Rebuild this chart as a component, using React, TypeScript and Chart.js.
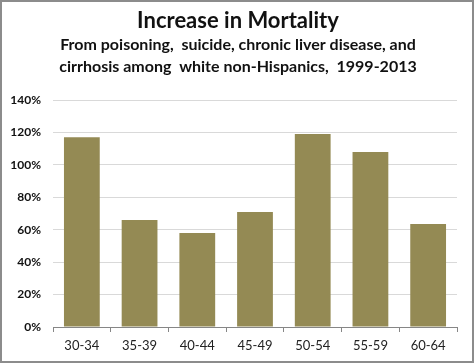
import React, { useEffect, useRef } from "react";
import { Chart, registerables } from "chart.js";

Chart.register(...registerables);

const categories = ["30-34", "35-39", "40-44", "45-49", "50-54", "55-59", "60-64"];
const increasePct = [117, 66, 58, 71, 119, 108, 63.5];
const titleText = "Increase in Mortality";
const subtitleLines = [
  "From poisoning,  suicide, chronic liver disease, and",
  "cirrhosis among  white non-Hispanics,  1999-2013",
];

const W = 474;
const H = 363;
const PLOT_LEFT = 53;
const PLOT_RIGHT = 457;
const PLOT_TOP = 100;
const PLOT_BOTTOM = 327;

const framePlugin = {
  id: "frame",
  beforeDraw(chart: any) {
    const ctx = chart.ctx;
    ctx.save();
    ctx.fillStyle = "#ffffff";
    ctx.fillRect(0, 0, W, H);
    ctx.restore();
  },
  afterDraw(chart: any) {
    const ctx = chart.ctx;
    ctx.save();
    ctx.strokeStyle = "#8c8c8c";
    ctx.lineWidth = 2;
    ctx.strokeRect(1, 1, W - 2, H - 2);
    ctx.fillStyle = "#111";
    ctx.textAlign = "center";
    ctx.textBaseline = "middle";
    ctx.font = "bold 22px Lato";
    ctx.fillText(titleText, 238, 21);
    ctx.font = "bold 16px Lato";
    ctx.fillText(subtitleLines[0], 238, 45);
    ctx.fillText(subtitleLines[1], 238, 67);
    ctx.restore();
  },
};

export default function App() {
  const ref = useRef<HTMLCanvasElement | null>(null);
  useEffect(() => {
    if (!ref.current) return;
    const chart = new Chart(ref.current, {
      type: "bar",
      data: {
        labels: categories,
        datasets: [
          {
            data: increasePct,
            backgroundColor: "#948A54",
            borderWidth: 0,
            categoryPercentage: 0.62,
            barPercentage: 1,
          },
        ],
      },
      options: {
        animation: false,
        responsive: true,
        maintainAspectRatio: false,
        layout: { padding: { left: 0, right: W - PLOT_RIGHT, top: PLOT_TOP, bottom: 0 } },
        plugins: { legend: { display: false }, tooltip: { enabled: false }, title: { display: false } },
        scales: {
          x: {
            grid: {
              offset: true,
              drawOnChartArea: false,
              drawTicks: true,
              tickLength: 5,
              color: "#868686",
            },
            border: { display: true, color: "#868686", width: 1 },
            ticks: { color: "#222", font: { family: "Lato", size: 13 }, padding: 6 },
            afterFit(scale: any) {
              scale.height = H - PLOT_BOTTOM;
            },
          },
          y: {
            min: 0,
            max: 140,
            ticks: {
              stepSize: 20,
              color: "#111",
              font: { family: "Lato", size: 12, weight: "bold" },
              padding: 12,
              callback: (v: any) => v + "%",
            },
            grid: { color: "#d9d9d9", drawTicks: false },
            border: { display: false },
            afterFit(scale: any) {
              scale.width = PLOT_LEFT;
            },
          },
        },
      },
      plugins: [framePlugin],
    });
    return () => chart.destroy();
  }, []);
  return (
    <div style={{ position: "fixed", left: 0, top: 0, width: W, height: H }}>
      <canvas ref={ref} />
    </div>
  );
}
